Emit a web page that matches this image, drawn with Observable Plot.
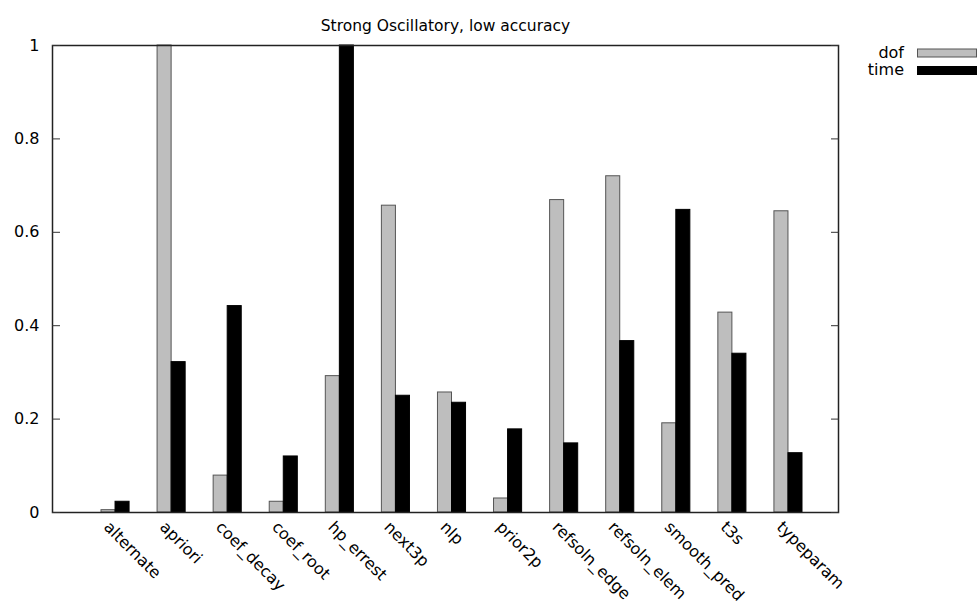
<!DOCTYPE html>
<html>
<head>
<meta charset="utf-8">
<script src="https://cdn.jsdelivr.net/npm/d3@7"></script>
<script src="https://cdn.jsdelivr.net/npm/@observablehq/plot@0.6"></script>
<style>
  html, body { margin: 0; padding: 0; background: #fff; }
  #chart svg { display: block; }
</style>
</head>
<body>
<div id="chart"></div>
<script>
// Solver comparison: normalised dof count and run time per refinement strategy
const title = "Strong Oscillatory, low accuracy";
const categories = ["alternate", "apriori", "coef_decay", "coef_root", "hp_errest", "next3p", "nlp",
  "prior2p", "refsoln_edge", "refsoln_elem", "smooth_pred", "t3s", "typeparam"];
const dofValues  = [0.005, 1.0, 0.079, 0.023, 0.292, 0.657, 0.257, 0.030, 0.669, 0.720, 0.191, 0.428, 0.645];
const timeValues = [0.023, 0.322, 0.442, 0.120, 1.0, 0.250, 0.235, 0.178, 0.148, 0.367, 0.648, 0.340, 0.127];
const seriesNames = ["dof", "time"];
const seriesFill = ["#bebebe", "#000000"];
const seriesStroke = ["#555555", "#000000"];
const yTicks = [0, 0.2, 0.4, 0.6, 0.8, 1];
const yTickLabels = ["0", "0.2", "0.4", "0.6", "0.8", "1"];

const rows = categories.map((c, i) => ({category: c, dof: dofValues[i], time: timeValues[i]}));
const font = "'DejaVu Sans', 'Liberation Sans', sans-serif";

const chart = Plot.plot({
  width: 978,
  height: 604,
  marginLeft: 52,
  marginRight: 140,
  marginTop: 45,
  marginBottom: 92,
  style: {fontFamily: font, fontSize: "16px", color: "#000", background: "#fff"},
  x: {domain: categories, range: [87, 816], padding: 0, round: false, axis: null},
  y: {domain: [0, 1], axis: null},
  marks: [
    // dof bars sit left of each category centre, time bars right of it
    Plot.barY(rows, {x: "category", y: "dof", insetLeft: 14, insetRight: 28.04,
      fill: seriesFill[0], stroke: seriesStroke[0], strokeWidth: 1}),
    Plot.barY(rows, {x: "category", y: "time", insetLeft: 28.04, insetRight: 14,
      fill: seriesFill[1], stroke: seriesStroke[1], strokeWidth: 1}),
    Plot.frame({stroke: "#222", strokeWidth: 1.5}),
    // inward tick marks on both vertical borders
    Plot.axisY({anchor: "left", ticks: yTicks, tickSize: 8, dx: 8, tickFormat: () => "", label: null, stroke: "#333"}),
    Plot.axisY({anchor: "right", ticks: yTicks, tickSize: 8, dx: -8, tickFormat: () => "", label: null, stroke: "#333"}),
    Plot.axisY({anchor: "left", ticks: yTicks, tickSize: 0, tickPadding: 13, label: null,
      tickFormat: (d) => yTickLabels[yTicks.indexOf(d)], fontSize: 16}),
    Plot.axisX({anchor: "bottom", tickSize: 0, tickPadding: 0, tickRotate: 45, textAnchor: "start",
      lineAnchor: "middle", dx: -9, dy: 12, label: null, fontSize: 16}),
    Plot.text([title], {frameAnchor: "top", dy: -26, fontSize: 15.5, fill: "#000"})
  ]
});

document.getElementById("chart").append(chart);

// key in the right margin
const svg = d3.select(chart);
const key = svg.append("g").attr("font-family", font).attr("font-size", 16);
seriesNames.forEach((name, i) => {
  const y = 49 + i * 17.5;
  key.append("text").attr("x", 904).attr("y", y + 4).attr("text-anchor", "end")
    .attr("dominant-baseline", "middle").text(name);
  key.append("rect").attr("x", 917.5).attr("y", y).attr("width", 59).attr("height", 8)
    .attr("fill", seriesFill[i]).attr("stroke", seriesStroke[i]).attr("stroke-width", 1);
});
</script>
</body>
</html>
